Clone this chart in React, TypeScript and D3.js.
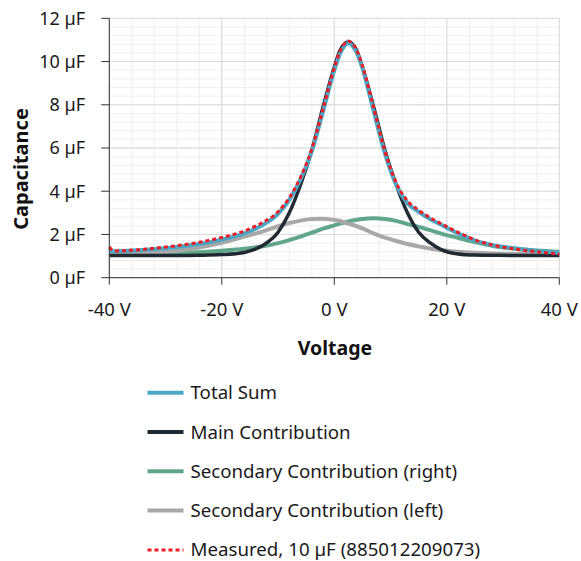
import React from "react";
import * as d3 from "d3";

const GRID_V = [-40, -36, -32, -28, -24, -20, -16, -13, -10, -8, -6, -4, -2, 0, 1, 2.5, 4, 5, 7, 9, 11, 13, 15, 17, 19, 22, 25, 28, 32, 36, 40];

const totalSum = [1.22, 1.26, 1.32, 1.42, 1.56, 1.76, 2.05, 2.4, 2.95, 3.6, 4.55, 5.85, 7.7, 9.6, 10.35, 10.85, 10.4, 9.7, 7.7, 5.75, 4.3, 3.45, 3.05, 2.72, 2.45, 2.05, 1.72, 1.52, 1.36, 1.24, 1.15];
const mainContribution = [1.03, 1.03, 1.03, 1.03, 1.04, 1.07, 1.17, 1.45, 2.1, 3.0, 4.3, 5.9, 7.9, 9.75, 10.5, 10.9, 10.5, 9.75, 7.9, 5.9, 4.3, 3.0, 2.1, 1.62, 1.3, 1.1, 1.05, 1.04, 1.03, 1.03, 1.03];
const secondaryRight = [1.07, 1.08, 1.1, 1.13, 1.18, 1.25, 1.34, 1.44, 1.6, 1.74, 1.9, 2.08, 2.27, 2.42, 2.5, 2.6, 2.68, 2.72, 2.75, 2.72, 2.63, 2.48, 2.35, 2.2, 2.04, 1.84, 1.65, 1.48, 1.34, 1.26, 1.2];
const secondaryLeft = [1.08, 1.11, 1.16, 1.25, 1.4, 1.62, 1.9, 2.12, 2.38, 2.53, 2.64, 2.72, 2.73, 2.67, 2.62, 2.5, 2.38, 2.28, 2.05, 1.85, 1.7, 1.56, 1.45, 1.35, 1.28, 1.2, 1.15, 1.12, 1.1, 1.09, 1.08];

const MEAS_V = [-40, -39.4, -38.5, -36, -32, -28, -24, -20, -16, -13, -10, -8, -6, -4, -2, 0, 1, 2.5, 4, 5, 7, 9, 11, 13, 15, 17, 19, 22, 25, 28, 32, 36, 40];
const measured = [1.42, 1.28, 1.24, 1.27, 1.36, 1.48, 1.64, 1.86, 2.16, 2.52, 3.05, 3.7, 4.65, 5.95, 7.8, 9.7, 10.45, 10.95, 10.5, 9.8, 7.85, 5.85, 4.4, 3.55, 3.12, 2.78, 2.5, 2.1, 1.75, 1.52, 1.33, 1.2, 1.09];

const X_TICKS = [-40, -20, 0, 20, 40];
const Y_TICKS = [0, 2, 4, 6, 8, 10, 12];
const X_LABELS = ["-40 V", "-20 V", "0 V", "20 V", "40 V"];
const Y_LABELS = ["0 µF", "2 µF", "4 µF", "6 µF", "8 µF", "10 µF", "12 µF"];

const SERIES_NAMES = ["Total Sum", "Main Contribution", "Secondary Contribution (right)", "Secondary Contribution (left)", "Measured, 10 µF (885012209073)"];
const SERIES_COLORS = ["#4aa8c6", "#1f2a33", "#5fa68b", "#a8a8a8", "#ee1c25"];

const FONT = "'Noto Sans', sans-serif";

export default function App() {
  const W = 581, H = 561;
  const x = d3.scaleLinear().domain([-40, 40]).range([109.3, 559.3]);
  const y = d3.scaleLinear().domain([0, 12]).range([277.7, 18.3]);

  const line = (xs: number[], ys: number[]) =>
    d3.line<number>().x((_, i) => x(xs[i])).y((d) => y(d)).curve(d3.curveMonotoneX)(ys) || "";

  const minorX = d3.range(-40, 40.001, 4);
  const minorY = d3.range(0, 12.001, 0.4);

  const paths = [
    { d: line(GRID_V, secondaryRight), c: SERIES_COLORS[2], w: 4, dash: undefined },
    { d: line(GRID_V, secondaryLeft), c: SERIES_COLORS[3], w: 4, dash: undefined },
    { d: line(GRID_V, mainContribution), c: SERIES_COLORS[1], w: 3.5, dash: undefined },
    { d: line(GRID_V, totalSum), c: SERIES_COLORS[0], w: 4, dash: undefined },
    { d: line(MEAS_V, measured), c: SERIES_COLORS[4], w: 3, dash: "4 3" },
  ];

  const legendOrder = [0, 1, 2, 3, 4];

  return (
    <svg width={W} height={H} style={{ position: "absolute", left: 0, top: 0 }} fontFamily={FONT}>
      <rect width={W} height={H} fill="#fff" />
      {minorX.map((v) => (
        <line key={"mx" + v} x1={x(v)} x2={x(v)} y1={y(12)} y2={y(0)} stroke="#efefef" strokeWidth={1} />
      ))}
      {minorY.map((v) => (
        <line key={"my" + v} x1={x(-40)} x2={x(40)} y1={y(v)} y2={y(v)} stroke="#efefef" strokeWidth={1} />
      ))}
      {X_TICKS.map((v) => (
        <line key={"gx" + v} x1={x(v)} x2={x(v)} y1={y(12)} y2={y(0)} stroke="#d9d9d9" strokeWidth={1} />
      ))}
      {Y_TICKS.map((v) => (
        <line key={"gy" + v} x1={x(-40)} x2={x(40)} y1={y(v)} y2={y(v)} stroke="#d9d9d9" strokeWidth={1} />
      ))}
      {paths.map((p, i) => (
        <path key={i} d={p.d} fill="none" stroke={p.c} strokeWidth={p.w} strokeDasharray={p.dash} strokeLinejoin="round" />
      ))}
      <line x1={x(-40)} x2={x(-40)} y1={y(12)} y2={y(0)} stroke="#333" strokeWidth={1} />
      <line x1={x(-40)} x2={x(40)} y1={y(0)} y2={y(0)} stroke="#333" strokeWidth={1} />
      {Y_TICKS.map((v, i) => (
        <g key={"yt" + v}>
          <line x1={x(-40) - 8} x2={x(-40)} y1={y(v)} y2={y(v)} stroke="#333" strokeWidth={1} />
          <text x={85} y={y(v)} dy="0.35em" textAnchor="end" fontSize={18} fill="#1a1a1a">{Y_LABELS[i]}</text>
        </g>
      ))}
      {X_TICKS.map((v, i) => (
        <g key={"xt" + v}>
          <line x1={x(v)} x2={x(v)} y1={y(0)} y2={y(0) + 7} stroke="#333" strokeWidth={1} />
          <text x={x(v)} y={310} dy="0.35em" textAnchor="middle" fontSize={18.5} fill="#1a1a1a">{X_LABELS[i]}</text>
        </g>
      ))}
      <text x={335} y={348} dy="0.35em" textAnchor="middle" fontSize={19.5} fontWeight="bold" fill="#111">Voltage</text>
      <text transform="translate(21,169) rotate(-90)" dy="0.35em" textAnchor="middle" fontSize={20} fontWeight="bold" fill="#111">Capacitance</text>
      {legendOrder.map((si, i) => {
        const cy = 392.7 + i * 39.3;
        return (
          <g key={"lg" + si}>
            <line x1={147.5} x2={183.5} y1={cy} y2={cy} stroke={SERIES_COLORS[si]} strokeWidth={si === 4 ? 3 : 4} strokeDasharray={si === 4 ? "4 3" : undefined} />
            <text x={190.5} y={cy} dy="0.35em" fontSize={18.7} fill="#1a1a1a">{SERIES_NAMES[si]}</text>
          </g>
        );
      })}
    </svg>
  );
}
